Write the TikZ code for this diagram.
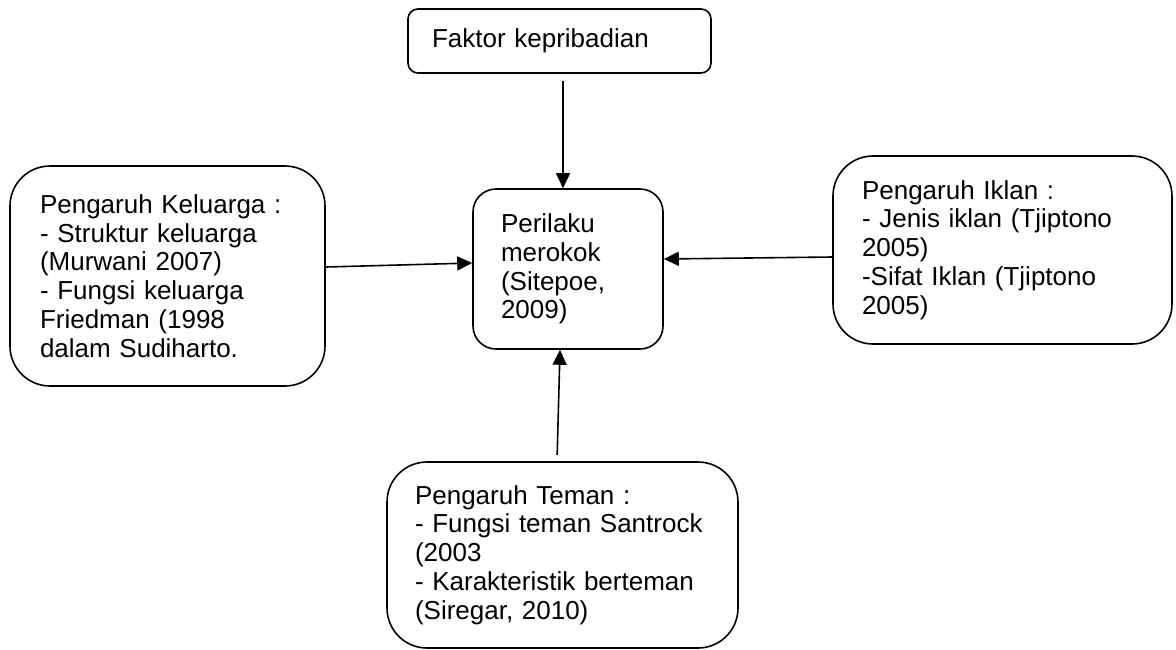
\documentclass[tikz,border=0pt]{standalone}
\usepackage{fontspec}
\setmainfont{Liberation Sans}
\usetikzlibrary{arrows.meta}
\begin{document}
\begin{tikzpicture}[x=1pt,y=-1pt,
  box/.style={draw=black,line width=1.6pt,align=left,inner ysep=0pt,
    font=\fontsize{26}{28.8}\selectfont},
  arr/.style={line width=1.6pt,-{Triangle[length=15pt,width=14pt]}}]
\useasboundingbox (0,0) rectangle (1176,649);
\node[box,rounded corners=10pt,inner xsep=24pt,text width=255pt,minimum height=64pt] (top) at (559.5,41) {Faktor kepribadian};
\node[box,rounded corners=23pt,inner xsep=28pt,text width=134pt,minimum height=160pt] (c) at (568,269) {Perilaku\\merokok\\(Sitepoe,\\2009)};
\node[box,rounded corners=40pt,inner xsep=30pt,text width=255pt,minimum height=220pt] (left) at (167.5,276) {Pengaruh Keluarga :\\- Struktur keluarga\\(Murwani 2007)\\- Fungsi keluarga\\Friedman (1998\\dalam Sudiharto.};
\node[box,rounded corners=40pt,inner xsep=29pt,text width=281pt,minimum height=188pt] (right) at (1002.5,250) {Pengaruh Iklan :\\- Jenis iklan (Tjiptono\\2005)\\-Sifat Iklan (Tjiptono\\2005)};
\node[box,rounded corners=40pt,inner xsep=28pt,text width=295pt,minimum height=186pt] (bot) at (562.5,555) {Pengaruh Teman :\\- Fungsi teman Santrock\\(2003\\- Karakteristik berteman\\(Siregar, 2010)};
\draw[arr,shorten <=7pt] ([xshift=3.5pt]top.south) -- ([xshift=-5pt]c.north);
\draw[arr] ([yshift=9pt]left.east) -- ([yshift=6pt]c.west);
\draw[arr] ([yshift=-7pt]right.west) -- ([yshift=10pt]c.east);
\draw[arr,shorten <=6pt] ([xshift=-5.5pt]bot.north) -- ([xshift=-8pt]c.south);
\end{tikzpicture}
\end{document}
